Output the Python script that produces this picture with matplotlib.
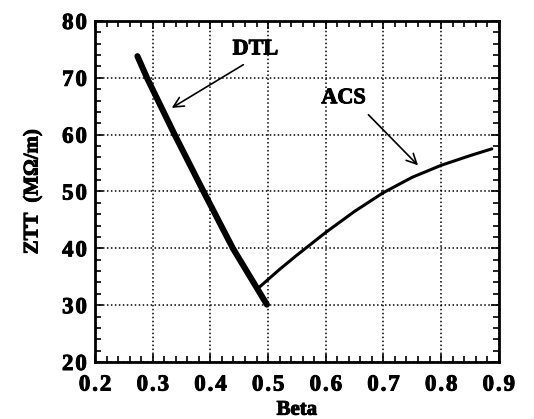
import matplotlib as mpl
mpl.use('Agg')
import matplotlib.pyplot as plt
import matplotlib.patheffects as pe
from matplotlib.ticker import MultipleLocator

mpl.rcParams['font.family'] = ['Liberation Serif', 'DejaVu Serif']
mpl.rcParams['font.weight'] = 'bold'

# shunt impedance vs. beta for the two structures
dtl_beta = [0.2735, 0.290, 0.338, 0.388, 0.439, 0.470, 0.498]
dtl_ztt = [73.8, 70.0, 60.0, 50.0, 40.0, 34.8, 30.1]

acs_beta = [0.483, 0.52, 0.55, 0.60, 0.65, 0.70, 0.75, 0.80, 0.85, 0.888]
acs_ztt = [33.0, 36.3, 38.8, 42.8, 46.5, 49.8, 52.5, 54.6, 56.3, 57.5]

xticks = [0.2, 0.3, 0.4, 0.5, 0.6, 0.7, 0.8, 0.9]
yticks = [20, 30, 40, 50, 60, 70, 80]

# loose letter spacing on the tick labels
sp = u'\u200a'
xlabels = [sp.join("%.1f" % v) for v in xticks]
ylabels = [sp.join(str(v)) for v in yticks]

heavy = [pe.withStroke(linewidth=0.7, foreground='k')]

fig = plt.figure(figsize=(5.34, 4.19), dpi=100)
ax = fig.add_axes([0.178, 0.136, 0.756, 0.814])

ax.plot(dtl_beta, dtl_ztt, color='k', lw=4.4, solid_capstyle='round',
        solid_joinstyle='round')
ax.plot(acs_beta, acs_ztt, color='k', lw=2.2, solid_capstyle='round',
        solid_joinstyle='round')

ax.set_xlim(0.2, 0.9)
ax.set_ylim(20, 80)
ax.set_xticks(xticks)
ax.set_yticks(yticks)
ax.set_xticklabels(xlabels)
ax.set_yticklabels(ylabels)
ax.xaxis.set_minor_locator(MultipleLocator(0.02))
ax.yaxis.set_minor_locator(MultipleLocator(2))
ax.tick_params(which='both', direction='in', top=True, right=True,
               width=1.2, labelsize=16.5)
ax.tick_params(which='major', length=6)
ax.tick_params(which='minor', length=4)
ax.tick_params(axis='x', pad=9)
ax.tick_params(axis='y', pad=6)
for s in ax.spines.values():
    s.set_linewidth(2.0)
for t in ax.get_xticklabels() + ax.get_yticklabels():
    t.set_path_effects(heavy)

ax.grid(True, which='major', color='k', linestyle=(0, (1, 1.6)), lw=1.1)

ax.set_xlabel('Beta', fontsize=15, fontweight='bold', labelpad=3,
              path_effects=heavy)
ax.set_ylabel(u'ZTT  (M\u03a9/m)', fontsize=15, fontweight='bold', labelpad=14,
              path_effects=heavy)

arrow = dict(arrowstyle='->', color='k', lw=1.2, mutation_scale=18, shrinkA=0, shrinkB=0)
ax.annotate('', xy=(0.333, 64.7), xytext=(0.457, 72.3), arrowprops=arrow)
ax.text(0.478, 75.0, 'DTL', fontsize=16, fontweight='bold', ha='center', va='center',
        path_effects=heavy)
ax.annotate('', xy=(0.760, 54.6), xytext=(0.674, 63.5), arrowprops=arrow)
ax.text(0.631, 66.4, 'ACS', fontsize=16, fontweight='bold', ha='center', va='center',
        path_effects=heavy)

fig.savefig('out.png', dpi=100)
